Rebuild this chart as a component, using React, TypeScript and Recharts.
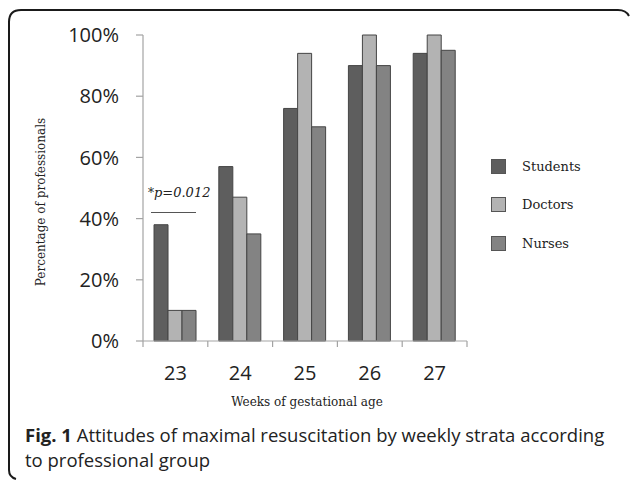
import React from "react";
import { BarChart, Bar, XAxis, YAxis } from "recharts";

const weeks = ["23", "24", "25", "26", "27"];
const students = [38, 57, 76, 90, 94];
const doctors = [10, 47, 94, 100, 100];
const nurses = [10, 35, 70, 90, 95];
const yTicks = [0, 20, 40, 60, 80, 100];

const seriesDefs = [
  { key: "Students", values: students, fill: "#5e5e5e" },
  { key: "Doctors", values: doctors, fill: "#b3b3b3" },
  { key: "Nurses", values: nurses, fill: "#838383" },
];

const data = weeks.map((w, i) => ({
  week: w,
  Students: students[i],
  Doctors: doctors[i],
  Nurses: nurses[i],
}));

const AXIS = "#a3a3a3";
const serif = "'DejaVu Serif', serif";
const sans = "'Open Sans', sans-serif";

const XTick = (props: any) => {
  const { x, y, payload, width, visibleTicksCount, index } = props;
  const half = width / visibleTicksCount / 2;
  const isLast = index === visibleTicksCount - 1;
  return (
    <g>
      <line x1={x - half} x2={x - half} y1={y} y2={y + 6} stroke={AXIS} strokeWidth={1.2} />
      {isLast && (
        <line x1={x + half} x2={x + half} y1={y} y2={y + 6} stroke={AXIS} strokeWidth={1.2} />
      )}
      <text
        x={x}
        y={y + 31}
        textAnchor="middle"
        dominantBaseline="central"
        fontFamily={sans}
        fontSize={20}
        fill="#222"
      >
        {payload.value}
      </text>
    </g>
  );
};

export default function App() {
  return (
    <div
      style={{
        position: "absolute",
        left: 0,
        top: 0,
        width: 630,
        height: 481,
        overflow: "hidden",
        background: "#fff",
      }}
    >
      <svg
        width={630}
        height={481}
        style={{ position: "absolute", left: 0, top: 0 }}
      >
        <path
          d="M 16 479 Q 9 477 9 470 L 9 22 Q 9 10 21 10 L 618 10 Q 626 10 629 16"
          fill="none"
          stroke="#1a1a1a"
          strokeWidth={2}
        />
      </svg>
      <div style={{ position: "absolute", left: 0, top: 0 }}>
        <BarChart
          width={630}
          height={481}
          data={data}
          margin={{ top: 35, right: 163, left: 0, bottom: 110 }}
          barGap={0}
          barCategoryGap="17%"
        >
          <YAxis
            width={143}
            domain={[0, 100]}
            ticks={yTicks}
            interval={0}
            tickFormatter={(v: number) => `${v}%`}
            axisLine={{ stroke: AXIS, strokeWidth: 1.2 }}
            tickLine={{ stroke: AXIS, strokeWidth: 1.2 }}
            tickSize={7}
            tickMargin={17}
            tick={{ fontFamily: sans, fontSize: 20, fill: "#222" }}
          />
          <XAxis
            dataKey="week"
            height={30}
            axisLine={{ stroke: AXIS, strokeWidth: 1.2 }}
            tickLine={false}
            tickSize={0}
            tickMargin={0}
            interval={0}
            tick={<XTick />}
          />
          {seriesDefs.map((s) => (
            <Bar
              key={s.key}
              dataKey={s.key}
              fill={s.fill}
              stroke="#454545"
              strokeWidth={1}
              isAnimationActive={false}
            />
          ))}
        </BarChart>
      </div>

      {/* annotation */}
      <div
        style={{
          position: "absolute",
          left: 148,
          top: 184,
          fontFamily: serif,
          fontSize: 13,
          color: "#222",
          whiteSpace: "nowrap",
          lineHeight: "18px",
        }}
      >
        <span style={{ fontSize: 12 }}>*</span>
        <i>p=0.012</i>
      </div>
      <div
        style={{
          position: "absolute",
          left: 151,
          top: 212,
          width: 45,
          height: 0,
          borderTop: "1.5px solid #555",
        }}
      />

      {/* y label */}
      <div
        style={{
          position: "absolute",
          left: 41,
          top: 202,
          transform: "translate(-50%, -50%) rotate(-90deg)",
          fontFamily: serif,
          fontSize: 12,
          color: "#222",
          whiteSpace: "nowrap",
        }}
      >
        Percentage of professionals
      </div>

      {/* x label */}
      <div
        style={{
          position: "absolute",
          left: 307,
          top: 402,
          transform: "translate(-50%, -50%)",
          fontFamily: serif,
          fontSize: 12,
          color: "#222",
          whiteSpace: "nowrap",
        }}
      >
        Weeks of gestational age
      </div>

      {/* legend */}
      {seriesDefs.map((s, i) => (
        <div
          key={s.key}
          style={{
            position: "absolute",
            left: 491,
            top: 158 + i * 38.5,
            display: "flex",
            alignItems: "center",
            height: 16,
          }}
        >
          <div
            style={{
              width: 13,
              height: 13,
              background: s.fill,
              border: "1px solid #555",
            }}
          />
          <span
            style={{
              marginLeft: 16,
              fontFamily: serif,
              fontSize: 13,
              color: "#222",
            }}
          >
            {s.key}
          </span>
        </div>
      ))}

      {/* caption */}
      <div
        style={{
          position: "absolute",
          left: 25,
          top: 422,
          fontFamily: sans,
          fontSize: 18.5,
          lineHeight: "25px",
          color: "#222",
          whiteSpace: "nowrap",
        }}
      >
        <b>Fig. 1</b> Attitudes of maximal resuscitation by weekly strata according
        <br />
        to professional group
      </div>
    </div>
  );
}
